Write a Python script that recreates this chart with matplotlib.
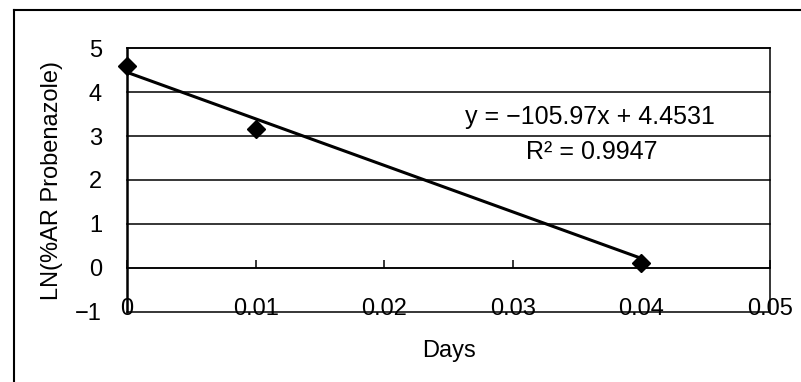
import matplotlib
matplotlib.use("Agg")
import matplotlib.pyplot as plt
from matplotlib.lines import Line2D
import numpy as np

plt.rcParams['font.family'] = ['Liberation Sans', 'DejaVu Sans']

# measured values: days after application vs LN(%AR Probenazole)
days = [0.0, 0.01, 0.04]
ln_ar = [4.6, 3.17, 0.1]

# linear trend reported on the chart
slope = -105.97
intercept = 4.4531
r_squared = 0.9947

x_ticks = [0.0, 0.01, 0.02, 0.03, 0.04, 0.05]
x_tick_labels = ['0', '0.01', '0.02', '0.03', '0.04', '0.05']
y_ticks = [-1, 0, 1, 2, 3, 4, 5]
y_tick_labels = ['\u22121', '0', '1', '2', '3', '4', '5']


def main():
    W, H = 801, 382
    fig = plt.figure(figsize=(W / 100, H / 100), dpi=100)
    fig.patch.set_facecolor('white')

    ax = fig.add_axes([127 / W, 1 - 311.7 / H, (770 - 127) / W, (311.7 - 48.3) / H])
    ax.set_xlim(0, 0.05)
    ax.set_ylim(-1, 5)

    # horizontal gridlines, including frame top and bottom
    for yv in y_ticks:
        ax.axhline(yv, color='black', lw=1.1, zorder=1, clip_on=False)

    # category axis crosses at y = 0
    ax.spines['bottom'].set_position(('data', 0))
    ax.spines['bottom'].set_linewidth(1.1)
    ax.spines['top'].set_linewidth(1.1)
    ax.spines['right'].set_linewidth(1.1)
    ax.spines['left'].set_linewidth(1.8)

    ax.set_xticks(x_ticks)
    ax.set_xticklabels(x_tick_labels)
    ax.set_yticks(y_ticks)
    ax.set_yticklabels(y_tick_labels)
    ax.tick_params(axis='x', direction='in', length=5.5, width=1.1,
                   pad=22, labelsize=17)
    ax.tick_params(axis='y', length=0, pad=18, labelsize=17)

    # trend line from the fitted equation
    xs = np.array([days[0], days[-1]])
    ax.plot(xs, slope * xs + intercept, color='black', lw=2.2, zorder=3)

    ax.plot(days, ln_ar, linestyle='none', marker='D', markersize=9,
            color='black', zorder=4, clip_on=False)

    ax.text(0.03596, 3.43, f'y = \u2212{abs(slope):.2f}x + {intercept:.4f}',
            ha='center', va='center', fontsize=18)
    ax.text(0.03616, 2.64, f'R\u00b2 = {r_squared:.4f}',
            ha='center', va='center', fontsize=18)

    fig.text(52 / W, 1 - 180 / H, 'LN(%AR Probenazole)', rotation=90,
             ha='center', va='center', fontsize=17)
    fig.text(449 / W, 1 - 351 / H, 'Days', ha='center', va='center',
             fontsize=17)

    # chart area border
    fig.add_artist(Line2D([13.5 / W, 13.5 / W], [0, 1 - 10 / H],
                          color='black', lw=1.5))
    fig.add_artist(Line2D([13.5 / W, 1], [1 - 10 / H, 1 - 10 / H],
                          color='black', lw=1.5))

    fig.savefig('out.png', dpi=100)


if __name__ == "__main__":
    main()
